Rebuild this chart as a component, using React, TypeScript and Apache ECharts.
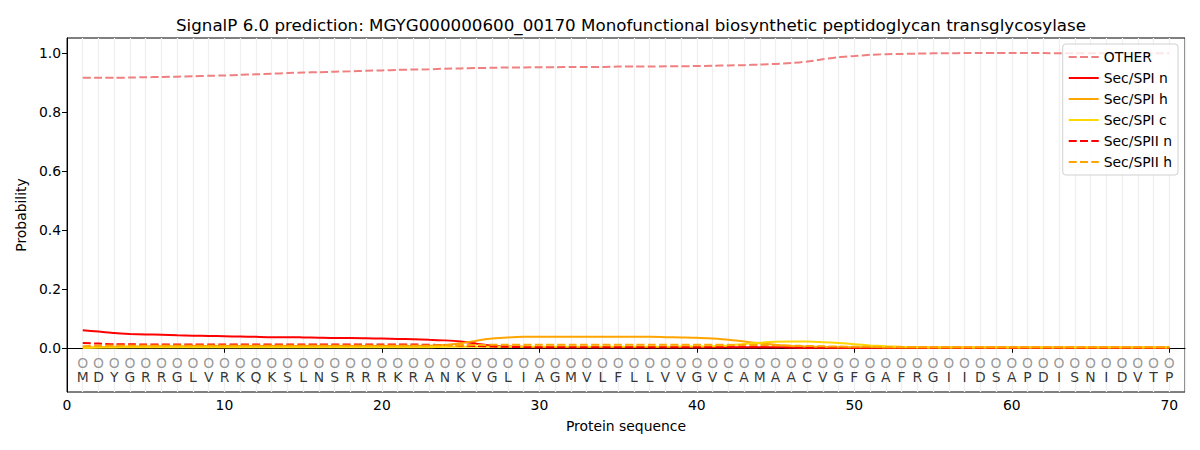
import React, { useEffect, useRef } from "react";
import * as echarts from "echarts";

const residues = "MDYGRRGLVRKQKSLNSRRRKRANKVGLIAGMVLFLLVVGVCAMAACVGFGAFRGIIDSAPDISNIDVTP".split("");
const regionLabels = residues.map(() => "O");

const otherProb = [
  0.915, 0.915, 0.915, 0.916, 0.917, 0.918, 0.919, 0.92, 0.922, 0.923,
  0.925, 0.927, 0.929, 0.931, 0.933, 0.934, 0.936, 0.937, 0.939, 0.94,
  0.942, 0.943, 0.944, 0.946, 0.947, 0.948, 0.949, 0.95, 0.95, 0.951,
  0.951, 0.952, 0.952, 0.952, 0.953, 0.953, 0.953, 0.954, 0.954, 0.955,
  0.956, 0.957, 0.958, 0.96, 0.962, 0.965, 0.97, 0.978, 0.985, 0.989,
  0.993, 0.995, 0.996, 0.997, 0.998, 0.998, 0.999, 0.999, 0.999, 0.999,
  0.999, 0.999, 0.998, 0.998, 0.998, 0.998, 0.998, 0.998, 0.998, 0.998,
];
const spiN = [
  0.059, 0.055, 0.05, 0.047, 0.045, 0.044, 0.042, 0.041, 0.04, 0.039,
  0.038, 0.037, 0.036, 0.036, 0.035, 0.034, 0.033, 0.033, 0.032, 0.031,
  0.03, 0.029, 0.027, 0.025, 0.021, 0.014, 0.007, 0.004, 0.003, 0.002,
  0.002, 0.002, 0.002, 0.002, 0.002, 0.002, 0.002, 0.002, 0.002, 0.002,
  0.002, 0.002, 0.002, 0.002, 0.002, 0.001, 0.0, 0.0, 0.0, 0.0,
  0.0, 0.0, 0.0, 0.0, 0.0, 0.0, 0.0, 0.0, 0.0, 0.0,
  0.0, 0.0, 0.0, 0.0, 0.0, 0.0, 0.0, 0.0, 0.0, 0.0,
];
const spiH = [
  0.0, 0.002, 0.003, 0.004, 0.005, 0.005, 0.005, 0.006, 0.006, 0.006,
  0.006, 0.006, 0.006, 0.006, 0.006, 0.006, 0.006, 0.006, 0.006, 0.006,
  0.006, 0.006, 0.007, 0.009, 0.015, 0.024, 0.031, 0.035, 0.037, 0.037,
  0.037, 0.037, 0.037, 0.037, 0.037, 0.037, 0.037, 0.036, 0.035, 0.034,
  0.031, 0.027, 0.021, 0.015, 0.01, 0.006, 0.004, 0.003, 0.002, 0.002,
  0.002, 0.001, 0.001, 0.001, 0.001, 0.001, 0.001, 0.001, 0.001, 0.001,
  0.001, 0.001, 0.001, 0.001, 0.001, 0.001, 0.001, 0.001, 0.001, 0.001,
];
const spiC = [
  0.0, 0.001, 0.001, 0.002, 0.002, 0.002, 0.002, 0.002, 0.002, 0.002,
  0.002, 0.002, 0.002, 0.002, 0.002, 0.002, 0.002, 0.002, 0.002, 0.002,
  0.002, 0.002, 0.002, 0.003, 0.003, 0.003, 0.003, 0.003, 0.003, 0.003,
  0.003, 0.003, 0.003, 0.003, 0.003, 0.003, 0.003, 0.003, 0.004, 0.004,
  0.005, 0.008, 0.013, 0.017, 0.02, 0.021, 0.021, 0.019, 0.016, 0.012,
  0.008, 0.005, 0.003, 0.002, 0.001, 0.001, 0.001, 0.001, 0.001, 0.001,
  0.001, 0.001, 0.001, 0.001, 0.001, 0.001, 0.001, 0.001, 0.001, 0.001,
];
const spiiN = [
  0.016, 0.014, 0.012, 0.012, 0.011, 0.011, 0.011, 0.011, 0.011, 0.011,
  0.011, 0.011, 0.011, 0.011, 0.011, 0.011, 0.011, 0.011, 0.011, 0.011,
  0.011, 0.011, 0.01, 0.009, 0.008, 0.006, 0.004, 0.003, 0.002, 0.002,
  0.002, 0.002, 0.002, 0.002, 0.002, 0.002, 0.002, 0.002, 0.002, 0.002,
  0.002, 0.002, 0.002, 0.002, 0.002, 0.001, 0.001, 0.001, 0.0, 0.0,
  0.0, 0.0, 0.0, 0.0, 0.0, 0.0, 0.0, 0.0, 0.0, 0.0,
  0.0, 0.0, 0.0, 0.0, 0.0, 0.0, 0.0, 0.0, 0.0, 0.0,
];
const spiiH = [
  0.005, 0.007, 0.008, 0.008, 0.008, 0.008, 0.008, 0.008, 0.008, 0.008,
  0.008, 0.008, 0.008, 0.008, 0.008, 0.008, 0.008, 0.008, 0.008, 0.008,
  0.008, 0.008, 0.008, 0.009, 0.009, 0.009, 0.01, 0.01, 0.01, 0.01,
  0.01, 0.01, 0.01, 0.01, 0.01, 0.01, 0.01, 0.01, 0.01, 0.01,
  0.01, 0.01, 0.009, 0.009, 0.008, 0.007, 0.006, 0.005, 0.004, 0.003,
  0.003, 0.002, 0.002, 0.002, 0.002, 0.002, 0.002, 0.002, 0.002, 0.002,
  0.002, 0.002, 0.002, 0.002, 0.002, 0.002, 0.002, 0.002, 0.002, 0.002,
];
const xTicks = [0, 10, 20, 30, 40, 50, 60, 70];
const yTicks = [0, 0.2, 0.4, 0.6, 0.8, 1.0];

const FONT = "DejaVu Sans";
const FS = 13.9;

export default function App() {
  const ref = useRef<HTMLDivElement>(null);
  useEffect(() => {
    if (!ref.current) return;
    const chart = echarts.init(ref.current, null, { renderer: "svg" });
    const pos = residues.map((_, i) => i + 1);
    const pair = (arr: number[]) => arr.map((v, i) => [pos[i], v]);
    const dash = [8, 3.3];
    const lineSeries = (name: string, data: number[], color: string, dashed: boolean) => ({
      name,
      type: "line",
      data: pair(data),
      symbol: "none",
      showSymbol: false,
      smooth: 0.2,
      lineStyle: { color, width: 2, type: dashed ? dash : "solid" },
      itemStyle: { color },
      z: 3,
    });
    chart.setOption({
      animation: false,
      textStyle: { fontFamily: FONT },
      title: {
        text: "SignalP 6.0 prediction: MGYG000000600_00170 Monofunctional biosynthetic peptidoglycan transglycosylase",
        left: 626,
        top: 11,
        textAlign: "center",
        textStyle: { fontFamily: FONT, fontSize: 16.7, fontWeight: "normal", color: "#000" },
      },
      grid: {
        left: 67,
        right: 15,
        top: 38,
        bottom: 58,
        show: true,
        borderColor: "#000",
        borderWidth: 1,
        backgroundColor: "transparent",
      },
      legend: {
        orient: "vertical",
        right: 22,
        top: 44,
        data: ["OTHER", "Sec/SPI n", "Sec/SPI h", "Sec/SPI c", "Sec/SPII n", "Sec/SPII h"],
        itemWidth: 30,
        itemHeight: 14,
        itemGap: 7,
        padding: [6, 6, 6, 5],
        itemStyle: { opacity: 0 },
        backgroundColor: "rgba(255,255,255,0.8)",
        borderColor: "#d0d0d0",
        borderWidth: 1,
        borderRadius: 3,
        textStyle: { fontFamily: FONT, fontSize: FS, color: "#000" },
      },
      xAxis: [
        {
          type: "value",
          min: 0,
          max: 71,
          name: "Protein sequence",
          nameLocation: "middle",
          nameGap: 27,
          nameTextStyle: { fontFamily: FONT, fontSize: FS, color: "#000" },
          axisLine: { lineStyle: { color: "#000", width: 1 } },
          axisTick: { show: true, length: 5, lineStyle: { color: "#000" }, customValues: xTicks },
          axisLabel: { fontFamily: FONT, fontSize: FS, color: "#000", margin: 6, customValues: xTicks },
          splitLine: { show: false },
        },
        {
          type: "value",
          min: 0,
          max: 71,
          interval: 1,
          position: "bottom",
          axisLine: { show: false },
          axisTick: { show: false },
          axisLabel: { show: false },
          splitLine: { show: true, lineStyle: { color: "#efefef", width: 1.3 } },
        },
      ],
      yAxis: {
        type: "value",
        min: -0.15,
        max: 1.05,
        name: "Probability",
        nameLocation: "middle",
        nameGap: 38,
        nameTextStyle: { fontFamily: FONT, fontSize: FS, color: "#000" },
        axisLine: { show: true, lineStyle: { color: "#000", width: 1 } },
        axisTick: { show: true, length: 5, lineStyle: { color: "#000" }, customValues: yTicks },
        axisLabel: {
          fontFamily: FONT,
          fontSize: FS,
          color: "#000",
          margin: 6,
          customValues: yTicks,
          formatter: (v: number) => v.toFixed(1),
        },
        splitLine: { show: false },
      },
      series: [
        lineSeries("OTHER", otherProb, "#f08080", true),
        lineSeries("Sec/SPI n", spiN, "#ff0000", false),
        lineSeries("Sec/SPI h", spiH, "#ffa500", false),
        lineSeries("Sec/SPI c", spiC, "#ffd700", false),
        lineSeries("Sec/SPII n", spiiN, "#ff0000", true),
        lineSeries("Sec/SPII h", spiiH, "#ffa500", true),
        {
          name: "regions",
          type: "scatter",
          data: regionLabels.map((r, i) => [pos[i], -0.05, r]),
          symbolSize: 1,
          itemStyle: { color: "rgba(0,0,0,0)" },
          label: {
            show: true,
            position: "inside",
            formatter: (p: any) => p.data[2],
            fontFamily: FONT,
            fontSize: FS,
            color: "#808080",
          },
          silent: true,
          z: 2,
        },
        {
          name: "residues",
          type: "scatter",
          data: residues.map((r, i) => [pos[i], -0.1, r]),
          symbolSize: 1,
          itemStyle: { color: "rgba(0,0,0,0)" },
          label: {
            show: true,
            position: "inside",
            formatter: (p: any) => p.data[2],
            fontFamily: FONT,
            fontSize: FS,
            color: "#000",
          },
          silent: true,
          z: 2,
        },
      ],
    });
    return () => chart.dispose();
  }, []);
  return (
    <div
      ref={ref}
      style={{ position: "absolute", left: 0, top: 0, width: 1200, height: 450, background: "#fff" }}
    />
  );
}
